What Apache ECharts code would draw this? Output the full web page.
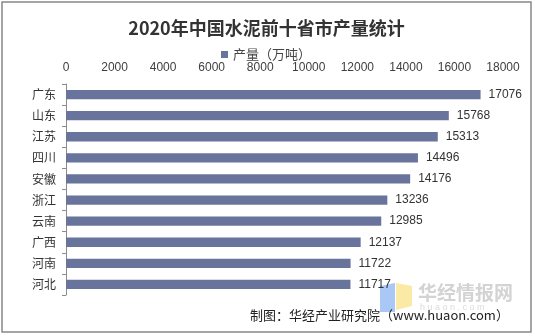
<!DOCTYPE html>
<html>
<head>
<meta charset="utf-8">
<script src="https://cdn.jsdelivr.net/npm/echarts@6/dist/echarts.min.js"></script>
<style>
html,body{margin:0;padding:0;background:#fff;}
#chart{width:533px;height:335px;}
</style>
</head>
<body>
<div id="chart"></div>
<script>
const titleText = '2020年中国水泥前十省市产量统计';
const seriesName = '产量（万吨）';
const categories = ['广东','山东','江苏','四川','安徽','浙江','云南','广西','河南','河北'];
const values = [17076,15768,15313,14496,14176,13236,12985,12137,11722,11717];
const xTicks = [0,2000,4000,6000,8000,10000,12000,14000,16000,18000];
const sourceText = '制图：华经产业研究院（www.huaon.com）';

const chart = echarts.init(document.getElementById('chart'), null, {renderer:'canvas'});
chart.setOption({
  backgroundColor:'#fff',
  animation:false,
  title:{
    text:titleText, left:'center', top:14,
    textStyle:{fontSize:18, fontWeight:'bold', color:'#333', fontFamily:'"Noto Sans CJK SC", serif'}
  },
  legend:{
    data:[seriesName], left:216, top:43,
    icon:'rect', itemWidth:7, itemHeight:7, itemGap:4,
    textStyle:{fontSize:13, color:'#444', fontFamily:'"Noto Sans CJK SC", sans-serif'}
  },
  grid:{left:66, right:30, top:84, height:211, containLabel:false},
  xAxis:{
    type:'value', position:'top', min:xTicks[0], max:xTicks[xTicks.length-1], interval:2000,
    axisLine:{show:false}, axisTick:{show:false}, splitLine:{show:false},
    axisLabel:{fontSize:12, color:'#404040', fontFamily:'Arial, "Liberation Sans", sans-serif', margin:10,
      formatter:function(v){return String(v);}}
  },
  yAxis:{
    type:'category', data:categories, inverse:true,
    axisLine:{show:true, lineStyle:{color:'#8c8c8c', width:1}},
    axisTick:{show:true, length:4, lineStyle:{color:'#8c8c8c'}},
    axisLabel:{fontSize:12, color:'#333', margin:10, fontFamily:'"Noto Sans CJK SC", sans-serif'}
  },
  series:[{
    name:seriesName, type:'bar', data:values, barCategoryGap:'56%',
    itemStyle:{color:'#68749B'},
    label:{show:true, position:'right', distance:8, fontSize:12, color:'#333', fontFamily:'Arial, "Liberation Sans", sans-serif'}
  }],
  graphic:[
    {type:'rect', shape:{x:2, y:2, width:529, height:330}, style:{fill:'none', stroke:'#888', lineWidth:1.5}, z:-1},
    {type:'polygon', shape:{points:[[380,286],[395,283],[395,312],[380,312]]}, style:{fill:'#a9c8f5'}, z:-1},
    {type:'polygon', shape:{points:[[396,283],[412,286],[412,306],[396,310]]}, style:{fill:'#fbeaa5'}, z:-1},
    {type:'text', left:418, top:283, style:{text:'华经情报网', fontSize:19, fontWeight:'bold', fill:'#d3d3d3', fontFamily:'"Noto Sans CJK SC", sans-serif'}, z:-1},
    {type:'text', left:420, top:303, style:{text:'h u a o n . c o m', fontSize:9, fill:'#dcdcdc', fontFamily:'Arial, sans-serif'}, z:-1},
    {type:'text', left:250, top:309, style:{text:sourceText, fontSize:13, fill:'#222', fontFamily:'"Noto Sans CJK SC", sans-serif'}}
  ]
});
</script>
</body>
</html>
